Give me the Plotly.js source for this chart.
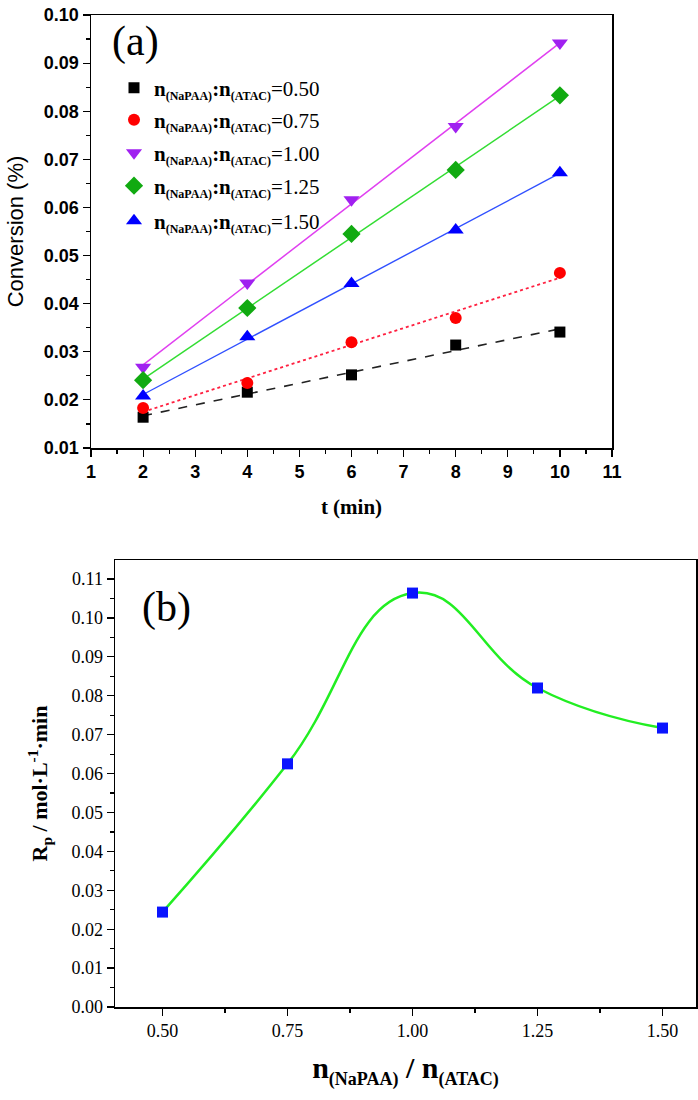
<!DOCTYPE html>
<html>
<head>
<meta charset="utf-8">
<script src="https://cdn.plot.ly/plotly-3.0.1.min.js"></script>
<style>html,body{margin:0;padding:0;background:#fff;}#chart{width:698px;height:1100px;}</style>
</head>
<body>
<div id="chart"></div>
<script>
// ---- Panel (a) data ----
const timeMin = [2, 4, 6, 8, 10];
const conv050 = [0.0164, 0.0216, 0.0252, 0.0314, 0.0341];
const conv075 = [0.0183, 0.0235, 0.0320, 0.0370, 0.0464];
const conv100 = [0.0268, 0.0443, 0.0616, 0.0768, 0.0942];
const conv125 = [0.0241, 0.0391, 0.0545, 0.0678, 0.0833];
const conv150 = [0.0208, 0.0331, 0.0442, 0.0553, 0.0672];
const ratioLabels = ['0.50', '0.75', '1.00', '1.25', '1.50'];
const xTicksA = [1,2,3,4,5,6,7,8,9,10,11];
const yTicksA = [0.01,0.02,0.03,0.04,0.05,0.06,0.07,0.08,0.09,0.10];

// ---- Panel (b) data ----
const ratio = [0.50, 0.75, 1.00, 1.25, 1.50];
const rate = [0.0244, 0.0625, 0.1064, 0.0820, 0.0717];
const xTicksB = [0.50, 0.75, 1.00, 1.25, 1.50];
const yTicksB = [0,0.01,0.02,0.03,0.04,0.05,0.06,0.07,0.08,0.09,0.10,0.11];

function subB(t, px) { return '<sub><b><span style="font-size:' + px + 'px">' + t + '</span></b></sub>'; }
function legendLabel(r) {
  return '<b>n</b>' + subB('(NaPAA)', 12) + '<b>:n</b>' + subB('(ATAC)', 12) + '=' + r;
}

function fit(x, y) {
  const n = x.length;
  const mx = x.reduce((a,b)=>a+b,0)/n, my = y.reduce((a,b)=>a+b,0)/n;
  let sxy = 0, sxx = 0;
  for (let i=0;i<n;i++){ sxy += (x[i]-mx)*(y[i]-my); sxx += (x[i]-mx)*(x[i]-mx); }
  const k = sxy/sxx, b = my - k*mx;
  return x.map(v => k*v + b);
}

const series = [conv050, conv075, conv100, conv125, conv150];
const markerStyles = [
  {symbol:'square', color:'#000000', size:11},
  {symbol:'circle', color:'#ff0000', size:12},
  {symbol:'triangle-down', color:'#a020f0', size:14},
  {symbol:'diamond', color:'#11aa11', size:14},
  {symbol:'triangle-up', color:'#0000ff', size:14}
];
const lineStyles = [
  {color:'#222222', width:1.6, dash:'dash'},
  {color:'#ff2040', width:1.8, dash:'dot'},
  {color:'#e040f0', width:1.5, dash:'solid'},
  {color:'#33dd33', width:1.5, dash:'solid'},
  {color:'#3050ff', width:1.4, dash:'solid'}
];
const W = 698, H = 1100;
const legendRowsY = [88, 120, 153, 186, 221];
const legendIds = ['legend', 'legend2', 'legend3', 'legend4', 'legend5'];

const traces = [];
series.forEach((s, i) => {
  traces.push({x: timeMin, y: fit(timeMin, s), mode:'lines', line: lineStyles[i],
    showlegend:false, hoverinfo:'skip', xaxis:'x', yaxis:'y'});
});
series.forEach((s, i) => {
  traces.push({x: timeMin, y: s, mode:'markers', name: legendLabel(ratioLabels[i]),
    marker: markerStyles[i], xaxis:'x', yaxis:'y', legend: legendIds[i]});
});
traces.push({x: ratio, y: rate, mode:'lines', line:{shape:'spline', smoothing:1.3, color:'#22ee22', width:2.5},
  showlegend:false, xaxis:'x2', yaxis:'y2'});
traces.push({x: ratio, y: rate, mode:'markers', marker:{symbol:'square', color:'#0a14ff', size:11},
  showlegend:false, xaxis:'x2', yaxis:'y2'});

const axCommon = {showgrid:false, zeroline:false, showline:true, linecolor:'#000', linewidth:1.5,
  mirror:true, ticks:'outside', tickcolor:'#000', tickwidth:1.2};
const serif = 'Liberation Serif, Times New Roman, serif';
const sans = 'Liberation Sans, Arial, sans-serif';

const layout = {
  width: W, height: H,
  margin: {l:0, r:0, t:0, b:0},
  paper_bgcolor:'#fff', plot_bgcolor:'#fff',
  showlegend: true,
  xaxis: Object.assign({}, axCommon, {
    domain:[91/W, 612/W], range:[1, 11], tickvals: xTicksA, ticktext: xTicksA.map(String),
    ticklen:7, minor:{dtick:0.5, tick0:1, ticks:'outside', ticklen:4, tickcolor:'#000'},
    tickfont:{family:sans, size:18, color:'#000', weight:'bold'},
    title:{text:'t (min)', standoff:18, font:{family:serif, size:21, color:'#000', weight:'bold'}},
    anchor:'y'
  }),
  yaxis: Object.assign({}, axCommon, {
    domain:[1-448/H, 1-15/H], range:[0.01, 0.10], tickvals: yTicksA, ticktext: yTicksA.map(v=>v.toFixed(2)),
    ticklen:7, minor:{dtick:0.005, tick0:0.01, ticks:'outside', ticklen:4, tickcolor:'#000'},
    tickfont:{family:sans, size:18, color:'#000', weight:'bold'},
    title:{text:'Conversion (%)', standoff:14, font:{family:sans, size:22, color:'#000'}},
    anchor:'x'
  }),
  xaxis2: Object.assign({}, axCommon, {
    domain:[115/W, 696/W], range:[0.405, 1.567], tickvals: xTicksB, ticktext: xTicksB.map(v=>v.toFixed(2)),
    ticklen:7, minor:{dtick:0.125, tick0:0.5, ticks:'outside', ticklen:4, tickcolor:'#000'},
    tickfont:{family:serif, size:18, color:'#000'},
    title:{text:'<b>n</b>' + subB('(NaPAA)', 18) + '<b> / n</b>' + subB('(ATAC)', 18), standoff:17,
      font:{family:serif, size:30, color:'#000'}},
    anchor:'y2'
  }),
  yaxis2: Object.assign({}, axCommon, {
    domain:[1-1007/H, 1-560/H], range:[0, 0.1149], tickvals: yTicksB,
    ticktext: yTicksB.map(v=>v.toFixed(2)),
    ticklen:7, minor:{dtick:0.005, tick0:0, ticks:'outside', ticklen:4, tickcolor:'#000'},
    tickfont:{family:serif, size:18, color:'#000'},
    title:{text:'R<sub>p</sub> / mol·L<sup>-1</sup>·min', standoff:17, font:{family:serif, size:22, color:'#000', weight:'bold'}},
    anchor:'x2'
  }),
  annotations: [
    {text:'(a)', xref:'paper', yref:'paper', x:110/W, y:1-16/H, xanchor:'left', yanchor:'top', showarrow:false,
      font:{family:serif, size:42, color:'#000'}},
    {text:'(b)', xref:'paper', yref:'paper', x:140/W, y:1-582/H, xanchor:'left', yanchor:'top', showarrow:false,
      font:{family:serif, size:42, color:'#000'}}
  ]
};
legendIds.forEach((id, i) => {
  layout[id] = {x: 114/W, y: 1 - legendRowsY[i]/H, xanchor:'left', yanchor:'middle',
    bgcolor:'rgba(0,0,0,0)', borderwidth:0, itemwidth:30,
    font:{family:serif, size:21, color:'#000'}};
});

Plotly.newPlot('chart', traces, layout, {staticPlot:true, displayModeBar:false});
</script>
</body>
</html>
